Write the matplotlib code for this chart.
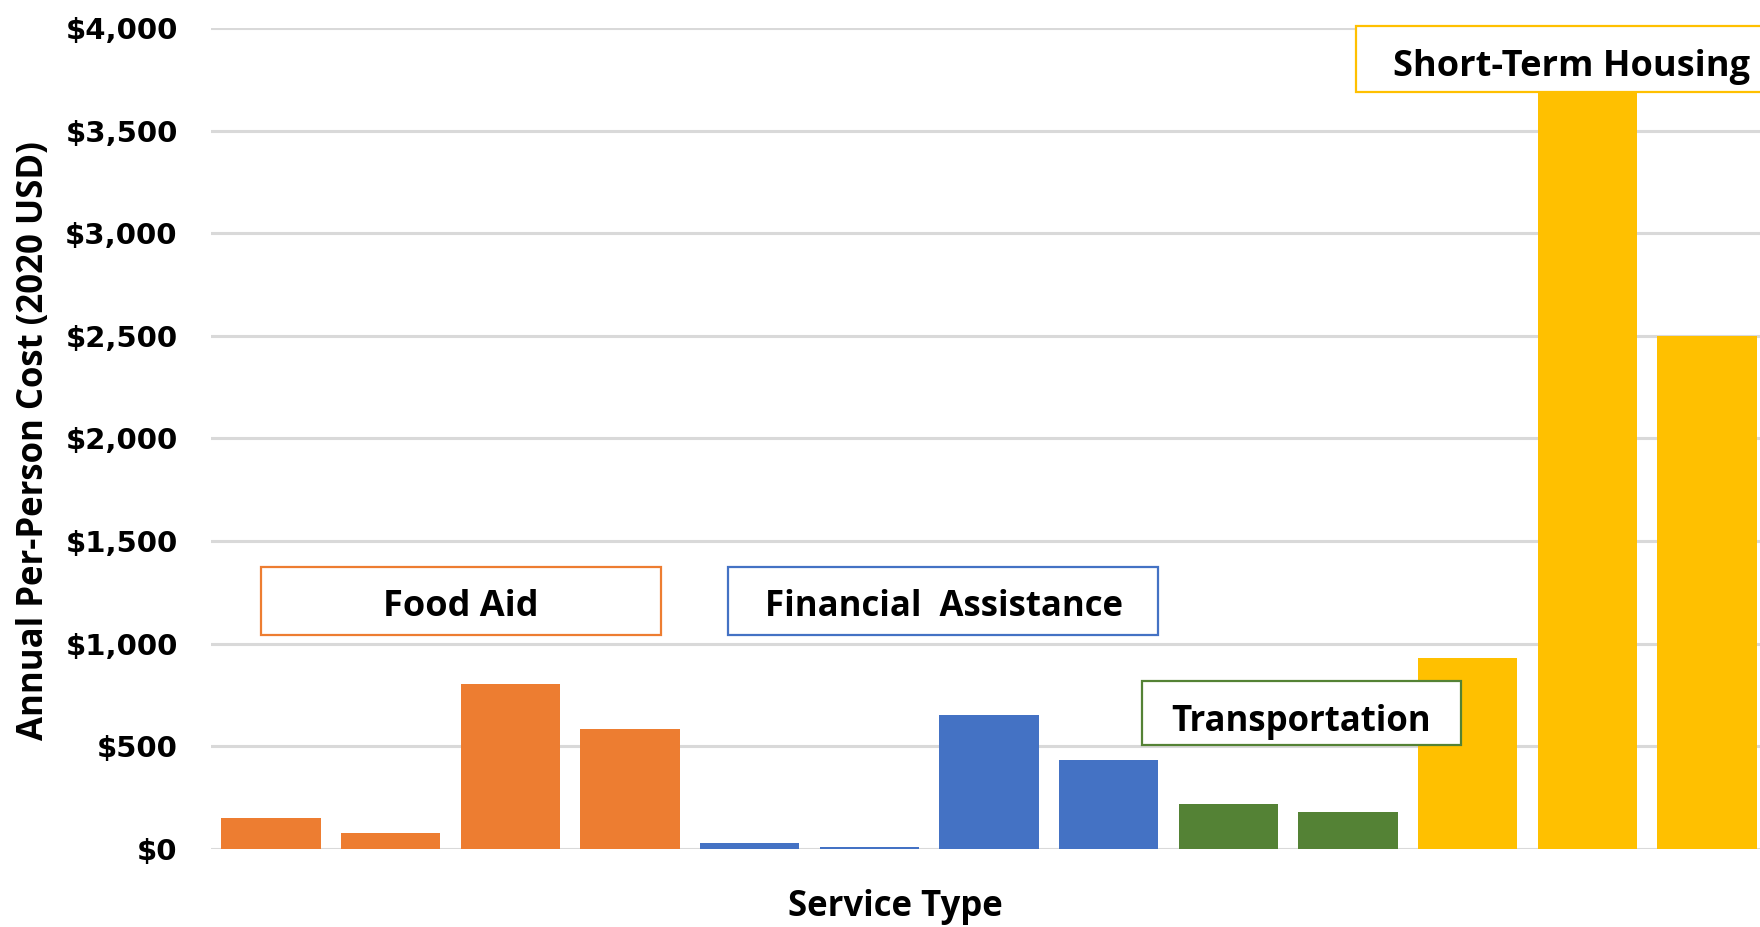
import matplotlib
matplotlib.use("Agg")
import matplotlib.pyplot as plt
from matplotlib.patches import Rectangle
from matplotlib.ticker import FuncFormatter

# per-person annual cost (2020 USD)
food_aid = [153, 77, 804, 585]
financial = [27, 11, 651, 432]
transport = [219, 180]
housing = [930, 4000, 2500]

c_food = "#ED7D31"
c_fin = "#4472C4"
c_trans = "#548235"
c_house = "#FFC000"

values = food_aid + financial + transport + housing
colors = ([c_food] * len(food_aid) + [c_fin] * len(financial)
          + [c_trans] * len(transport) + [c_house] * len(housing))
x = list(range(len(values)))

W, H = 1760, 927
fig = plt.figure(figsize=(W / 100, H / 100), dpi=100)
left, right = 211, 1767
bottom, top = 849, 28
ax = fig.add_axes([left / W, (H - bottom) / H, (right - left) / W, (bottom - top) / H])

ax.bar(x, values, width=0.83, color=colors, zorder=2)
ax.set_xlim(-0.5, len(values) - 0.5)
ax.set_ylim(0, 4000)
ax.set_yticks(range(0, 4001, 500))
ax.yaxis.set_major_formatter(FuncFormatter(lambda v, p: "${:,.0f}".format(v)))
ax.grid(axis="y", color="#D9D9D9", linewidth=2.2, zorder=0)
ax.set_xticks([])
for s in ax.spines.values():
    s.set_visible(False)
ax.tick_params(axis="y", length=0, pad=24, labelsize=21)
for t in ax.get_yticklabels():
    t.set_fontweight("bold")
    t.set_family("DejaVu Sans")

font = ["Open Sans", "DejaVu Sans"]
# axis titles placed in figure pixels, the plot runs off the right edge
fig.text(34 / W, 1 - 441 / H, "Annual Per-Person Cost (2020 USD)", rotation=90,
         ha="center", va="center", fontsize=25, fontweight="bold", family=font)
fig.text(895 / W, 1 - 907 / H, "Service Type", ha="center", va="center",
         fontsize=25, fontweight="bold", family=font)


def label_box(x0, x1, y0, y1, tx, ty, text, color, size=26):
    ax.add_patch(Rectangle((x0, y0), x1 - x0, y1 - y0, facecolor="white",
                           edgecolor=color, linewidth=1.6, zorder=3, clip_on=False))
    ax.text(tx, ty, text, ha="center", va="center", fontsize=size, fontweight="bold",
            family=font, zorder=4)


label_box(-0.08, 3.26, 1045, 1373, 1.59, 1180, "Food Aid", c_food)
label_box(3.82, 7.41, 1045, 1373, 5.62, 1180, "Financial  Assistance", c_fin, 25)
label_box(7.28, 9.94, 509, 820, 8.61, 620, "Transportation", c_trans, 25)
label_box(9.07, 13.2, 3687, 4010, 10.87, 3810, "Short-Term Housing", c_house)

fig.savefig("out.png", dpi=100)
